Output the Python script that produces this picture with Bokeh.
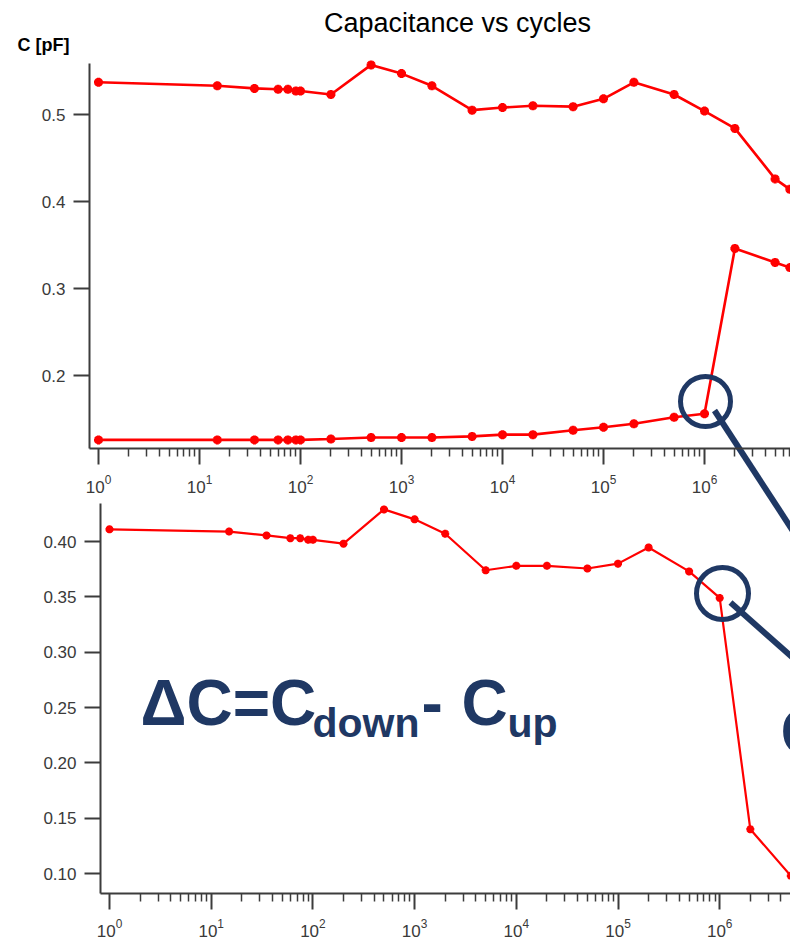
from bokeh.plotting import figure
from bokeh.models import (Range1d, LogScale, LinearAxis, LogAxis, FixedTicker,
                          NumeralTickFormatter, LogTickFormatter)
from bokeh.embed import file_html
from bokeh.resources import INLINE
from bokeh.core.properties import value

# ---------------- data ----------------
cycles = [1, 15, 35, 60, 75, 90, 100, 200, 500, 1e3, 2e3, 5e3, 1e4, 2e4, 5e4,
          1e5, 2e5, 5e5, 1e6, 2e6, 5e6, 7e6]
c_down = [0.537, 0.533, 0.530, 0.529, 0.529, 0.527, 0.527, 0.523, 0.557, 0.547,
          0.533, 0.505, 0.508, 0.510, 0.509, 0.518, 0.537, 0.523, 0.504, 0.484,
          0.426, 0.414]
c_up = [0.126, 0.126, 0.126, 0.126, 0.126, 0.126, 0.126, 0.127, 0.1287, 0.1287,
        0.1287, 0.130, 0.132, 0.132, 0.137, 0.1406, 0.1445, 0.152, 0.156, 0.346,
        0.330, 0.324]

cycles_delta = [1, 15, 35, 60, 75, 90, 100, 200, 500, 1e3, 2e3, 5e3, 1e4, 2e4,
                5e4, 1e5, 2e5, 5e5, 1e6, 2e6, 5e6]
delta_c = [0.411, 0.409, 0.4055, 0.403, 0.403, 0.4015, 0.4015, 0.398, 0.429,
           0.420, 0.407, 0.374, 0.378, 0.378, 0.3756, 0.380, 0.3946, 0.373, 0.349,
           0.140, 0.098]

top_yticks = [0.2, 0.3, 0.4, 0.5]
bot_yticks = [0.10, 0.15, 0.20, 0.25, 0.30, 0.35, 0.40]
decades = [10 ** k for k in range(0, 8)]
minor = [m * 10 ** k for k in range(0, 8) for m in range(2, 10)]

title_text = "Capacitance vs cycles"
ylabel_text = "C [pF]"

# ---------------- layout calibration (page pixels) ----------------
W, H = 790, 951
RED = "#ff0000"
NAVY = "#1f3864"
AX = "#3c3c3c"

# top panel
T_X0, T_DEC = 98.0, 101.0          # pixel of 10^0, pixels per decade
T_Y05, T_PPU = 114.0, 870.0        # pixel of 0.5, pixels per unit
T_LEFT, T_BOTTOM_VAL, T_TOP_VAL = 89.0, 0.116, 0.559
# bottom panel
B_X0, B_DEC = 109.0, 101.7
B_Y40, B_PPU = 541.0, 1106.7
B_LEFT, B_BOTTOM_VAL, B_TOP_VAL = 100.0, 0.082, 0.434

p = figure(width=W, height=H, x_range=Range1d(0, W), y_range=Range1d(H, 0),
           x_axis_type=None, y_axis_type=None, toolbar_location=None,
           output_backend="svg", min_border=0, outline_line_color=None,
           background_fill_color="white", border_fill_color="white")

p.extra_x_ranges = {
    "tx": Range1d(10 ** ((0 - T_X0) / T_DEC), 10 ** ((W - T_X0) / T_DEC)),
    "bx": Range1d(10 ** ((0 - B_X0) / B_DEC), 10 ** ((W - B_X0) / B_DEC)),
}
p.extra_x_scales = {"tx": LogScale(), "bx": LogScale()}
p.extra_y_ranges = {
    "ty": Range1d(0.5 - (H - T_Y05) / T_PPU, 0.5 + T_Y05 / T_PPU),
    "by": Range1d(0.40 - (H - B_Y40) / B_PPU, 0.40 + B_Y40 / B_PPU),
}


def style(ax, minor_ticks=True):
    ax.axis_line_color = AX
    ax.axis_line_width = 2
    ax.major_tick_line_color = AX
    ax.major_tick_line_width = 2
    ax.major_tick_in = 0
    ax.major_tick_out = 16
    ax.minor_tick_line_color = AX if minor_ticks else None
    ax.minor_tick_line_width = 1.5
    ax.minor_tick_in = 0
    ax.minor_tick_out = 8
    ax.major_label_text_font = "Liberation Sans"
    ax.major_label_text_font_size = "17px"
    ax.major_label_text_color = "#3a3a3a"


# ---- top panel axes
ty_ax = LinearAxis(x_range_name="tx", y_range_name="ty",
                   fixed_location=10 ** ((T_LEFT - T_X0) / T_DEC),
                   bounds=(T_BOTTOM_VAL, T_TOP_VAL),
                   ticker=FixedTicker(ticks=top_yticks),
                   formatter=NumeralTickFormatter(format="0.0"))
style(ty_ax, False)
ty_ax.major_label_standoff = 8
p.add_layout(ty_ax, "left")

tx_ax = LogAxis(x_range_name="tx", y_range_name="ty",
                fixed_location=T_BOTTOM_VAL,
                bounds=(10 ** ((T_LEFT - T_X0) / T_DEC), 10 ** ((W + 20 - T_X0) / T_DEC)),
                ticker=FixedTicker(ticks=decades, minor_ticks=minor),
                formatter=LogTickFormatter())
style(tx_ax)
tx_ax.major_label_standoff = 10
p.add_layout(tx_ax, "below")

# ---- bottom panel axes
by_ax = LinearAxis(x_range_name="bx", y_range_name="by",
                   fixed_location=10 ** ((B_LEFT - B_X0) / B_DEC),
                   bounds=(B_BOTTOM_VAL, B_TOP_VAL),
                   ticker=FixedTicker(ticks=bot_yticks),
                   formatter=NumeralTickFormatter(format="0.00"))
style(by_ax, False)
by_ax.major_label_standoff = 8
p.add_layout(by_ax, "left")

bx_ax = LogAxis(x_range_name="bx", y_range_name="by",
                fixed_location=B_BOTTOM_VAL,
                bounds=(10 ** ((B_LEFT - B_X0) / B_DEC), 10 ** ((W + 20 - B_X0) / B_DEC)),
                ticker=FixedTicker(ticks=decades, minor_ticks=minor),
                formatter=LogTickFormatter())
style(bx_ax)
bx_ax.major_label_standoff = 10
p.add_layout(bx_ax, "below")

# ---- data
for ys in (c_down, c_up):
    p.line(cycles, ys, x_range_name="tx", y_range_name="ty",
           line_color=RED, line_width=2.6)
    p.scatter(cycles, ys, x_range_name="tx", y_range_name="ty", marker="asterisk",
              size=9, line_color=RED, line_width=3)

p.line(cycles_delta, delta_c, x_range_name="bx", y_range_name="by",
       line_color=RED, line_width=2.2)
p.scatter(cycles_delta, delta_c, x_range_name="bx", y_range_name="by",
          marker="asterisk", size=8, line_color=RED, line_width=2.6)

# ---- texts
p.text(x=[W / 2 + 62], y=[22], text=[title_text], text_align="center",
       text_baseline="middle", text_font=value("Liberation Sans"),
       text_font_size="27px", text_color="black")
p.text(x=[17], y=[44], text=[ylabel_text], text_align="left",
       text_baseline="alphabetic", text_font=value("Liberation Sans"),
       text_font_size="18px", text_font_style="bold", text_color="black")

# ---- annotations (navy)
p.segment(x0=[714, 730], y0=[410, 602], x1=[800, 800], y1=[542, 664],
          line_color=NAVY, line_width=6)
p.scatter(x=[705, 722], y=[401, 593], size=[50, 52], marker="circle",
          fill_color=None, line_color=NAVY, line_width=5)

big = dict(text_font=value("Liberation Sans"), text_font_style="bold",
           text_color=NAVY, text_baseline="alphabetic", text_align="left")
p.text(x=[140], y=[702], text=["\u0394C=C"], text_font_size="64px", **big)
p.text(x=[312], y=[722], text=["down"], text_font_size="41px", **big)
p.text(x=[421], y=[702], text=["-"], text_font_size="64px", **big)
p.text(x=[461], y=[702], text=["C"], text_font_size="64px", **big)
p.text(x=[507], y=[722], text=["up"], text_font_size="41px", **big)
p.text(x=[780], y=[731], text=["C"], text_font_size="64px", **big)

open("out.html", "w").write(file_html(p, INLINE))
